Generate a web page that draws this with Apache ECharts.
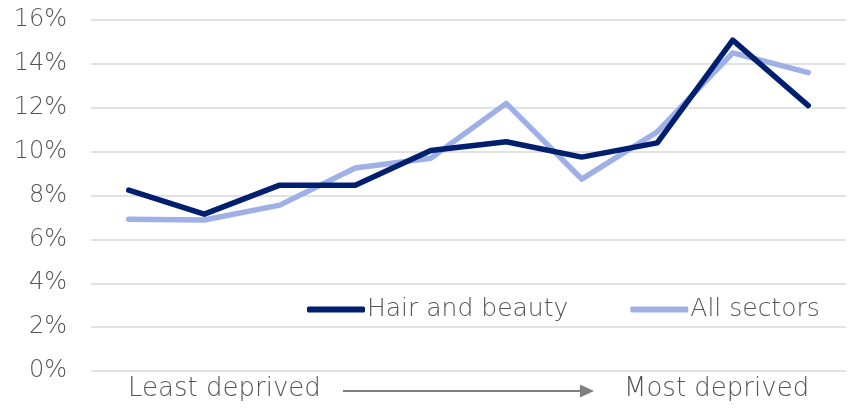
<!DOCTYPE html>
<html>
<head>
<meta charset="utf-8">
<script src="https://cdn.jsdelivr.net/npm/echarts@6/dist/echarts.min.js"></script>
<style>html,body{margin:0;padding:0;background:#fff}#c{width:848px;height:408px}</style>
</head>
<body>
<div id="c"></div>
<script>
var categories = ['1','2','3','4','5','6','7','8','9','10'];
var hairBeauty = [8.25, 7.15, 8.47, 8.47, 10.05, 10.45, 9.75, 10.4, 15.08, 12.1];
var allSectors = [6.92, 6.88, 7.56, 9.25, 9.7, 12.2, 8.75, 10.9, 14.5, 13.6];
var seriesNames = ['Hair and beauty', 'All sectors'];
var yTicks = [0, 2, 4, 6, 8, 10, 12, 14, 16];
var axisLabelsBottom = ['Least deprived', 'Most deprived'];

var FONT = 'DejaVu Sans';
var W = 200;
var TXT = '#555555';
var chart = echarts.init(document.getElementById('c'), null, {renderer: 'canvas'});
chart.setOption({
  animation: false,
  backgroundColor: '#fff',
  grid: {left: 91, right: 2, top: 20, bottom: 37},
  legend: {
    left: 302, top: 292,
    itemWidth: 58, itemHeight: 6, itemGap: 62,
    icon: 'roundRect',
    textStyle: {fontFamily: FONT, fontWeight: W, fontSize: 25, color: TXT, padding: [0,0,0,-3]},
    data: seriesNames
  },
  xAxis: {
    type: 'category', data: categories, boundaryGap: true,
    axisLine: {show: false}, axisTick: {show: false}, axisLabel: {show: false}
  },
  yAxis: {
    type: 'value', min: yTicks[0], max: yTicks[yTicks.length-1], interval: 2,
    axisLine: {show: false}, axisTick: {show: false},
    axisLabel: {formatter: '{value}%', fontFamily: FONT, fontWeight: W, fontSize: 24, color: TXT, margin: 24},
    splitLine: {lineStyle: {color: '#d9d9d9', width: 1.5}}
  },
  series: [
    {name: seriesNames[0], type: 'line', data: hairBeauty, symbol: 'none',
     lineStyle: {color: '#001F6E', width: 5.5, cap: 'round', join: 'round'}, itemStyle: {color: '#001F6E'}, z: 3},
    {name: seriesNames[1], type: 'line', data: allSectors, symbol: 'none',
     lineStyle: {color: '#9FB0E6', width: 5.5, cap: 'round', join: 'round'}, itemStyle: {color: '#9FB0E6'}, z: 2}
  ],
  graphic: [
    {type: 'text', left: 128, top: 376, style: {text: axisLabelsBottom[0], fontFamily: FONT, fontWeight: W, fontSize: 26, fill: TXT}},
    {type: 'line', shape: {x1: 343, y1: 391, x2: 582, y2: 391}, style: {stroke: '#7f7f7f', lineWidth: 2}},
    {type: 'polygon', shape: {points: [[580, 384.5], [594, 391], [580, 397.5]]}, style: {fill: '#7f7f7f'}},
    {type: 'text', left: 624, top: 376, style: {text: axisLabelsBottom[1], fontFamily: FONT, fontWeight: W, fontSize: 26, fill: TXT}}
  ]
});
</script>
</body>
</html>
